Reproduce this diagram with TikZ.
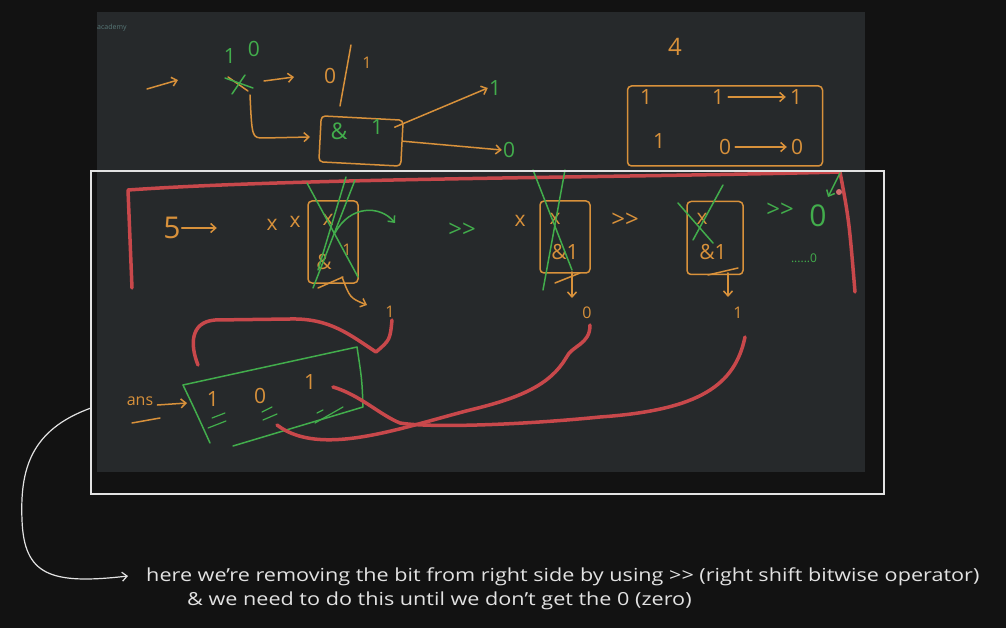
\documentclass[tikz,border=0pt]{standalone}
\usepackage{fontspec}
\setmainfont{Open Sans}
\usetikzlibrary{arrows.meta}
\definecolor{bgdark}{HTML}{121212}
\definecolor{panel}{HTML}{26292B}
\definecolor{pen}{HTML}{D8913B}
\definecolor{ink}{HTML}{42AD4C}
\definecolor{mark}{HTML}{C8484B}
\definecolor{frame}{HTML}{E2E2E2}
\newcommand{\shr}{>{}>}
\tikzset{
  >={Straight Barb[length=5pt,width=9pt]},
  penline/.style={draw=pen, line width=1.5pt, line cap=round, line join=round},
  inkline/.style={draw=ink, line width=1.5pt, line cap=round, line join=round},
  markline/.style={draw=mark, line width=3.5pt, line cap=round, line join=round},
  bit/.style={text=pen, inner sep=1pt, font=\fontsize{21}{21}\selectfont},
  gbit/.style={text=ink, inner sep=1pt, font=\fontsize{21}{21}\selectfont},
  smallbit/.style={text=pen, inner sep=1pt, font=\fontsize{16}{16}\selectfont},
  shiftbox/.style={penline, rounded corners=4pt, minimum width=#1},
  note/.style={text=frame, anchor=west, inner sep=0pt, xscale=1.2, font=\fontsize{18}{20}\selectfont}
}
\begin{document}
\begin{tikzpicture}[x=1pt,y=-1pt]
  \fill[bgdark] (0,0) rectangle (1006,628);
  \useasboundingbox (0,0) rectangle (1006,628);
  \fill[panel] (97,12) rectangle (865,472);
  \node[text=panel!70!cyan!40!gray, anchor=west, inner sep=0pt, font=\scriptsize] (brand) at (97,28) {academy};
  % top: single bit test
  \draw
    (147,89) coordinate (in)
    (230,56) node[gbit] (hi){1}
    (254,49) node[gbit] (lo){0}
    (238,84) coordinate (cut)
    (330,76) node[bit] (zero){0}
    (367,63) node[smallbit] (one){1}
    (361,141) node[shiftbox=82pt, minimum height=46pt, rotate=-3] (andop){}
    (339,131) node[gbit, font=\fontsize{23}{23}\selectfont] (amp){\&}
    (377,127) node[gbit] (mask){1}
    (495,88) node[gbit] (hi1){1}
    (509,150) node[gbit] (lo0){0}
    (675,47) node[bit, font=\fontsize{24}{24}\selectfont] (four){4};
  \draw[penline,->] (in) -- (178,80);
  \draw[penline] (cut) ++(-10,-7) -- ++(20,14);
  \draw[inkline] (cut) ++(-13,-6) -- ++(28,10);
  \draw[inkline] (cut) ++(7,-9) -- ++(-13,19);
  \draw[penline,->] (264,81) -- (294,77);
  \draw[penline] (351,45) -- (340,106);
  \draw[penline,->] (250,95) .. controls (252,138) .. (264,138) -- (310,137);
  \draw[penline,->] (andop.east) ++(-8,-16) -- (hi1.west);
  \draw[penline,->] (andop.east) ++(0,-2) -- (lo0.west);
  % truth table of & 1
  \draw
    (725,126) node[shiftbox=195pt, minimum height=80pt] (table){}
    (646,97) node[bit] (ra){1}
    (718,97) node[bit] (rb){1}
    (796,97) node[bit] (rc){1}
    (659,141) node[bit] (sa){1}
    (725,147) node[bit] (sb){0}
    (797,147) node[bit] (sc){0};
  \begin{scope}[penline,->,shorten <=3pt,shorten >=3pt]
    \draw (rb) -- (rc);
    \draw (sb) -- (sc);
  \end{scope}
  % red bracket round the loop
  \draw[markline] (132,288) -- (128,190) .. controls (300,178) and (600,178) .. (840,172) .. controls (849,220) .. (855,292);
  % loop on 5
  \draw
    (172,228) node[bit, font=\fontsize{30}{30}\selectfont] (five){5}
    (272,225) node[bit] (xa){x}
    (295,222) node[bit] (xb){x}
    (333,242) node[shiftbox=50pt, minimum height=82pt] (boxA){}
    (328,220) node[bit] (xc){x}
    (324,262) node[bit] (andA){\&}
    (347,250) node[smallbit] (oneA){1}
    (390,312) node[smallbit] (bitA){1}
    (462,230) node[gbit, font=\fontsize{24}{24}\selectfont] (shA){\shr}
    (520,221) node[bit] (xd){x}
    (565,237) node[shiftbox=50pt, minimum height=72pt] (boxB){}
    (555,219) node[bit] (xe){x}
    (565,252) node[bit] (andB){\&1}
    (587,313) node[smallbit] (bitB){0}
    (625,220) node[bit, font=\fontsize{24}{24}\selectfont] (shB){\shr}
    (715,238) node[shiftbox=56pt, minimum height=73pt] (boxC){}
    (702,219) node[bit] (xf){x}
    (713,252) node[bit] (andC){\&1}
    (738,313) node[smallbit] (bitC){1}
    (780,210) node[gbit, font=\fontsize{24}{24}\selectfont] (shC){\shr}
    (818,216) node[gbit, font=\fontsize{30}{30}\selectfont] (stop){0}
    (804,258) node[gbit, font=\fontsize{12}{12}\selectfont] (dots){......0};
  \draw[penline,->] (five.east) -- ++(35,0);
  \begin{scope}[inkline]
    \draw (307,183) -- (358,277);
    \draw (355,180) -- (313,288);
    \draw (346,177) -- (318,270);
    \draw (533,170) -- (572,270);
    \draw (565,170) -- (543,290);
    \draw (678,203) -- (713,243);
    \draw (723,185) -- (693,240);
    \draw[->] (335,233) .. controls (350,205) and (380,205) .. (395,223);
    \draw[->] (840,173) -- (828,197);
  \end{scope}
  \fill[mark!80!white] (839,192) circle (3pt);
  \begin{scope}[penline]
    \draw (318,288) -- (343,277);
    \draw[->] (342,277) .. controls (350,298) .. (367,305);
    \draw (555,283) -- (580,273);
    \draw[->] (572,272) -- (572,298);
    \draw (708,275) -- (738,268);
    \draw[->] (728,273) -- (728,297);
  \end{scope}
  % collected answer bits
  \draw
    (140,401) node[smallbit] (ans){ans}
    (213,399) node[bit] (ansA){1}
    (260,396) node[bit] (ansB){0}
    (310,382) node[bit] (ansC){1};
  \draw[penline] (132,423) -- (160,418);
  \draw[penline,->] (ans.east) ++(3,4) -- (187,403);
  \draw[inkline] (183,385) -- (357,347) .. controls (362,380) .. (363,407) -- (233,446);
  \draw[inkline] (183,385) .. controls (195,410) .. (210,443);
  \begin{scope}[inkline, line width=1.2pt]
    \draw (212,418) -- (225,413);
    \draw (208,428) -- (226,421);
    \draw (262,412) -- (272,407);
    \draw (263,420) -- (277,414);
    \draw (317,413) -- (323,410);
    \draw (315,423) -- (343,407);
  \end{scope}
  \begin{scope}[markline]
    \draw (392,320) .. controls (390,340) .. (376,352) .. controls (350,335) and (330,318) .. (290,319) -- (215,320) .. controls (190,322) and (190,345) .. (198,365);
    \draw (590,325) .. controls (590,345) and (572,345) .. (566,358) .. controls (550,385) and (520,398) .. (470,410) .. controls (400,428) and (320,458) .. (277,425);
    \draw (745,337) .. controls (735,385) and (700,410) .. (600,417) .. controls (520,425) and (430,428) .. (400,423) .. controls (380,415) and (360,395) .. (333,387);
  \end{scope}
  % frame and note
  \draw[frame, line width=1.2pt] (91,171) rectangle (884,494);
  \coordinate (tip) at (128,576);
  \draw[frame, line width=1.2pt, ->] (91,408) .. controls (30,430) and (20,470) .. (22,520) .. controls (24,575) and (50,585) .. (tip);
  \node[note] (lineA) at (146,577) {here we're removing the bit from right side by using \shr{} (right shift bitwise operator)};
  \node[note] (lineB) at (187,601) {\& we need to do this until we don't get the 0 (zero)};
\end{tikzpicture}
\end{document}
